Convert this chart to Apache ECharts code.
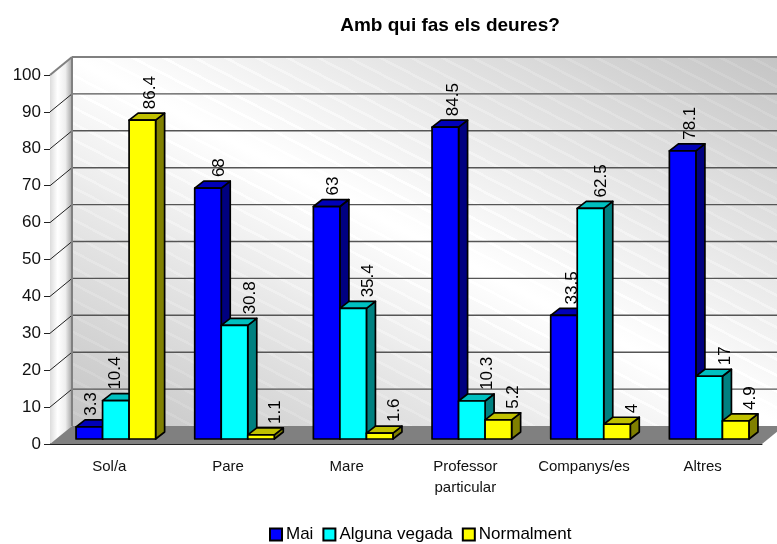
<!DOCTYPE html>
<html>
<head>
<meta charset="utf-8">
<style>
    html, body { margin: 0; background: #fff; }
    #chart { width: 777px; height: 544px; }
</style>
<script src="https://cdn.jsdelivr.net/npm/echarts@6/dist/echarts.min.js"></script>
</head>
<body>
<div id="chart"></div>
<script>
// Data
const categories = ['Sol/a', 'Pare', 'Mare', 'Professor\nparticular', 'Companys/es', 'Altres']
const mai = [3.3, 68, 63, 84.5, 33.5, 78.1]
const algunaVegada = [10.4, 30.8, 35.4, 10.3, 62.5, 17]
const normalment = [86.4, 1.1, 1.6, 5.2, 4, 4.9]
const yMax = 100
const yStep = 10

// 3D look
const font = '"Liberation Sans", Arial, sans-serif'
const wallX = 22, wallY = 18 // back wall offset from the front plane
const barX = 6.5, barY = 5 // bars stand a bit inside the floor
const depthX = 9, depthY = 7
const barRatio = 0.2235

// label x nudge, the original places them a bit unevenly
const labelNudge = [
    [1.7, 11, 7, 7.6, 8, 8],
    [-0.8, 15.5, 15, 15, 10.5, 16],
    [8, 14, 15, 15, 15, 15],
]

function poly(points, fill) {
    return {
        type: 'polygon',
        shape: { points: points },
        style: { fill: fill, stroke: '#000', lineWidth: 1.7, lineJoin: 'round' },
    }
}

// bars with front, top and side faces
function barSeries(name, values, index, colors) {
    return {
        name: name,
        type: 'custom',
        z: 3,
        clip: false,
        itemStyle: { color: colors[0], borderColor: '#000', borderWidth: 1.5 },
        data: values.map((v, i) => [i, v]),
        encode: { x: 0, y: 1 },
        renderItem: function (params, api) {
            const i = api.value(0)
            const v = api.value(1)
            const top = api.coord([i, v])
            const base = api.coord([i, 0])
            const band = api.size([1, 0])[0]
            const w = band * barRatio
            const x0 = top[0] + barX + (index - 1.5) * w
            const x1 = x0 + w
            const y0 = top[1] - barY
            const y1 = base[1] - barY
            return {
                type: 'group',
                children: [
                    poly([[x1, y0], [x1 + depthX, y0 - depthY], [x1 + depthX, y1 - depthY], [x1, y1]], colors[2]),
                    poly([[x0, y0], [x0 + depthX, y0 - depthY], [x1 + depthX, y0 - depthY], [x1, y0]], colors[1]),
                    poly([[x0, y0], [x1, y0], [x1, y1], [x0, y1]], colors[0]),
                    {
                        type: 'text',
                        x: x0 + w / 2 + labelNudge[index][i],
                        y: y0 - depthY - 4,
                        rotation: Math.PI / 2,
                        style: {
                            text: String(v),
                            font: '17px ' + font,
                            fill: '#000',
                            align: 'left',
                            verticalAlign: 'middle',
                        },
                    },
                ],
            }
        },
    }
}

// back wall stripes, same banding the old chart export has
function wallStops() {
    const stops = []
    const n = 46
    const shade = (p) => Math.round(p < 0.5 ? 196 + 59 * (p / 0.5) : 255 - 59 * ((p - 0.5) / 0.5))
    for (let k = 0; k < n; k++) {
        const t = k / n
        const t2 = (k + 1) / n
        const g = shade(t)
        const g2 = shade(t2 - 0.004)
        const l = Math.min(255, g2 + 6)
        stops.push({ offset: t, color: `rgb(${g},${g},${g})` })
        stops.push({ offset: t2 - 0.004, color: `rgb(${g2},${g2},${g2})` })
        stops.push({ offset: t2 - 0.004, color: `rgb(${l},${l},${l})` })
        stops.push({ offset: t2, color: `rgb(${l},${l},${l})` })
    }
    return stops
}

// walls, floor and gridlines, all hung on the axis scale
function wallsSeries() {
    return {
        type: 'custom',
        z: 1,
        clip: false,
        silent: true,
        data: [[0, 0]],
        encode: { x: 0, y: 1 },
        renderItem: function (params, api) {
            const cs = params.coordSys
            const left = cs.x
            const right = cs.x + cs.width
            const y0 = api.coord([0, 0])[1]
            const yTop = api.coord([0, yMax])[1]
            const w = right - left
            const h = y0 - yTop
            const L2 = w * w + h * h
            const children = [
                {
                    type: 'polygon',
                    shape: { points: [[left, yTop], [left + wallX, yTop - wallY], [left + wallX, y0 - wallY], [left, y0]] },
                    style: {
                        fill: new echarts.graphic.LinearGradient(0, 0, 1, 0, [
                            { offset: 0, color: '#dcdcdc' },
                            { offset: 0.35, color: '#ffffff' },
                            { offset: 0.7, color: '#eeeeee' },
                            { offset: 1, color: '#a4a4a4' },
                        ]),
                    },
                },
                {
                    type: 'rect',
                    shape: { x: left + wallX, y: yTop - wallY, width: w, height: h },
                    style: {
                        fill: new echarts.graphic.LinearGradient(
                            0.5 - (h * h) / L2, 0.5 + (w * w) / L2,
                            0.5 + (h * h) / L2, 0.5 - (w * w) / L2,
                            wallStops()
                        ),
                    },
                },
                {
                    type: 'polygon',
                    shape: { points: [[left, y0], [left + wallX, y0 - wallY], [right + wallX, y0 - wallY], [right, y0]] },
                    style: { fill: '#808080' },
                },
            ]
            for (let v = yStep; v <= yMax; v += yStep) {
                const y = api.coord([0, v])[1]
                const gray = v === yMax
                children.push({
                    type: 'line',
                    shape: { x1: left, y1: y, x2: left + wallX, y2: y - wallY },
                    style: { stroke: gray ? '#808080' : '#222', lineWidth: gray ? 2 : 1 },
                })
                children.push({
                    type: 'line',
                    shape: { x1: left + wallX, y1: y - wallY, x2: right + wallX, y2: y - wallY },
                    style: { stroke: gray ? '#808080' : '#555', lineWidth: gray ? 2 : 1.4 },
                })
            }
            children.push({
                type: 'line',
                shape: { x1: left + wallX, y1: yTop - wallY, x2: left + wallX, y2: y0 - wallY },
                style: { stroke: '#808080', lineWidth: 2 },
            })
            return { type: 'group', children: children }
        },
    }
}

const myChart = echarts.init(document.getElementById('chart'))
const option = {
    animation: false,
    backgroundColor: '#fff',
    title: {
        text: 'Amb qui fas els deures?',
        left: 445,
        top: 11,
        textAlign: 'center',
        textStyle: { fontFamily: font, fontSize: 19, fontWeight: 'bold', color: '#000' },
    },
    legend: {
        data: ['Mai', 'Alguna vegada', 'Normalment'],
        top: 521,
        left: 264,
        itemWidth: 12,
        itemHeight: 12,
        itemGap: 9,
        icon: 'rect',
        textStyle: { fontFamily: font, fontSize: 17, color: '#000', padding: [0, 0, 0, -1] },
    },
    grid: { left: 50, right: 15, top: 75, bottom: 100, containLabel: false },
    xAxis: {
        type: 'category',
        data: categories,
        axisLine: { lineStyle: { color: '#222', width: 1 } },
        axisTick: { length: 7, lineStyle: { color: '#222' } },
        axisLabel: { fontFamily: font, fontSize: 15, color: '#111', margin: 12, lineHeight: 21, interval: 0 },
    },
    yAxis: {
        type: 'value',
        min: 0,
        max: yMax,
        interval: yStep,
        splitLine: { show: false },
        axisLine: { show: true, lineStyle: { color: '#222', width: 1 } },
        axisTick: { show: true, length: 6, lineStyle: { color: '#222' } },
        axisLabel: { fontFamily: font, fontSize: 17, color: '#111', margin: 9 },
    },
    series: [
        wallsSeries(),
        barSeries('Mai', mai, 0, ['#0000ff', '#0000b8', '#000080']),
        barSeries('Alguna vegada', algunaVegada, 1, ['#00ffff', '#00c0c0', '#008080']),
        barSeries('Normalment', normalment, 2, ['#ffff00', '#c0c000', '#808000']),
    ],
}
myChart.setOption(option)
</script>
</body>
</html>
